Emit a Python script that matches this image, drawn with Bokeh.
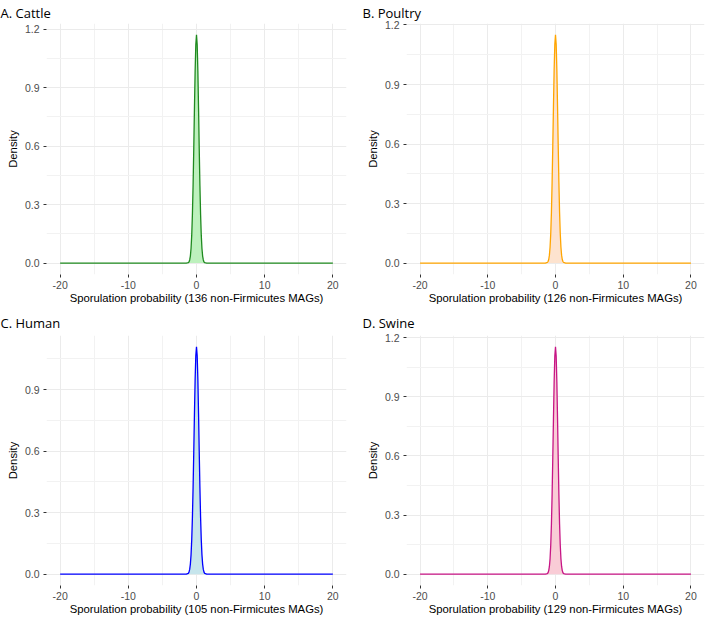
from bokeh.plotting import figure
from bokeh.layouts import column, row
from bokeh.models import Range1d, FixedTicker, PrintfTickFormatter, ColumnDataSource
from bokeh.embed import file_html
from bokeh.resources import INLINE

# Evaluation grid for the sporulation-probability densities
x_grid = [-20, -1.5, -1.2, -1.1, -1.0, -0.9, -0.8, -0.7, -0.6, -0.5, -0.4, -0.3, -0.2, -0.1,
          0.0, 0.1, 0.2, 0.3, 0.4, 0.5, 0.6, 0.7, 0.8, 0.9, 1.0, 1.1, 1.2, 1.5, 20]

dens_cattle = [0, 0, 0.002, 0.006, 0.016, 0.036, 0.075, 0.142, 0.249, 0.399, 0.588, 0.795, 0.985, 1.121,
               1.170, 1.121, 0.985, 0.795, 0.588, 0.399, 0.249, 0.142, 0.075, 0.036, 0.016, 0.006, 0.002, 0, 0]
dens_poultry = [0, 0, 0.003, 0.008, 0.018, 0.040, 0.081, 0.150, 0.258, 0.407, 0.592, 0.791, 0.974, 1.103,
                1.150, 1.103, 0.974, 0.791, 0.592, 0.407, 0.258, 0.150, 0.081, 0.040, 0.018, 0.008, 0.003, 0, 0]
dens_human = [0, 0, 0.004, 0.010, 0.023, 0.049, 0.094, 0.167, 0.276, 0.422, 0.598, 0.783, 0.950, 1.066,
              1.108, 1.066, 0.950, 0.783, 0.598, 0.422, 0.276, 0.167, 0.094, 0.049, 0.023, 0.010, 0.004, 0, 0]
dens_swine = [0, 0, 0.003, 0.007, 0.018, 0.039, 0.079, 0.149, 0.256, 0.405, 0.591, 0.792, 0.976, 1.107,
              1.154, 1.107, 0.976, 0.792, 0.591, 0.405, 0.256, 0.149, 0.079, 0.039, 0.018, 0.007, 0.003, 0, 0]

panel_titles = ["A. Cattle", "B. Poultry", "C. Human", "D. Swine"]
mag_counts = [136, 126, 105, 129]
line_colors = ["#1f8a1f", "#ffa500", "#0000ff", "#c71585"]
fill_colors = ["#bdf1bd", "#fde3cf", "#c6e5ec", "#f9ccd6"]

x_ticks = [-20, -10, 0, 10, 20]
x_minor = [-15, -5, 5, 15]
y_ticks = [0.0, 0.3, 0.6, 0.9, 1.2]
y_minor = [0.15, 0.45, 0.75, 1.05]

TEXT_FONT = "Liberation Sans"
TITLE_FONT = "Open Sans"


def density_panel(title, dens, line_color, fill_color, n_mags,
                  left, right, top, bottom, fw, fh, title_dx, title_gap):
    ymax = max(dens)
    p = figure(width=left + fw + right, height=top + fh + bottom,
               x_range=Range1d(-22, 22), y_range=Range1d(-0.05 * ymax, 1.05 * ymax),
               output_backend="svg", toolbar_location=None,
               min_border_left=left, min_border_right=right,
               min_border_top=top, min_border_bottom=bottom,
               outline_line_color=None, background_fill_color="white",
               border_fill_color="white")

    src = ColumnDataSource(dict(x=x_grid, y=dens))
    p.varea(x="x", y1=0, y2="y", source=src, fill_color=fill_color, fill_alpha=1.0)
    p.line(x="x", y="y", source=src, line_color=line_color, line_width=1.3)

    p.title.text = title
    p.title.text_font = TITLE_FONT
    p.title.text_font_size = "13px"
    p.title.text_font_style = "normal"
    p.title.text_color = "black"
    p.title.offset = -left + title_dx
    p.title.standoff = title_gap

    p.xaxis.ticker = FixedTicker(ticks=x_ticks, minor_ticks=x_minor)
    p.yaxis.ticker = FixedTicker(ticks=y_ticks, minor_ticks=y_minor)
    p.xaxis.formatter = PrintfTickFormatter(format="%d")
    p.yaxis.formatter = PrintfTickFormatter(format="%.1f")
    p.xaxis.axis_label = f"Sporulation probability ({n_mags} non-Firmicutes MAGs)"
    p.yaxis.axis_label = "Density"

    for ax in (p.xaxis, p.yaxis):
        ax.axis_line_color = None
        ax.major_tick_in = 0
        ax.major_tick_out = 3
        ax.major_tick_line_color = "#333333"
        ax.minor_tick_line_color = None
        ax.major_label_text_font = TEXT_FONT
        ax.major_label_text_font_size = "10.5px"
        ax.major_label_text_color = "#4d4d4d"
        ax.axis_label_text_font = TEXT_FONT
        ax.axis_label_text_font_size = "11.3px"
        ax.axis_label_text_font_style = "normal"
        ax.axis_label_text_color = "black"
    p.xaxis.major_label_standoff = 2
    p.xaxis.axis_label_standoff = 0
    p.yaxis.major_label_standoff = 3
    p.yaxis.axis_label_standoff = 3

    for g in (p.xgrid, p.ygrid):
        g.grid_line_color = "#ebebeb"
        g.grid_line_width = 1
        g.minor_grid_line_color = "#f2f2f2"
        g.minor_grid_line_width = 1
    return p


dens_all = [dens_cattle, dens_poultry, dens_human, dens_swine]
# (left, right, top, bottom, frame width, frame height, title shift, title gap) per panel
geometry = [
    (46, 7, 22, 34, 300, 252, 0, 3),
    (53, 2, 22, 34, 298, 252, 9, 3),
    (46, 7, 27, 32, 300, 250, 0, 7),
    (53, 2, 27, 32, 298, 250, 9, 7),
]

panels = []
for i in range(4):
    l, r, t, b, fw, fh, dx, gap = geometry[i]
    panels.append(density_panel(panel_titles[i], dens_all[i], line_colors[i], fill_colors[i],
                                mag_counts[i], l, r, t, b, fw, fh, dx, gap))

layout = column(row(panels[0], panels[1]), row(panels[2], panels[3]))

with open("out.html", "w") as f:
    f.write(file_html(layout, INLINE))
